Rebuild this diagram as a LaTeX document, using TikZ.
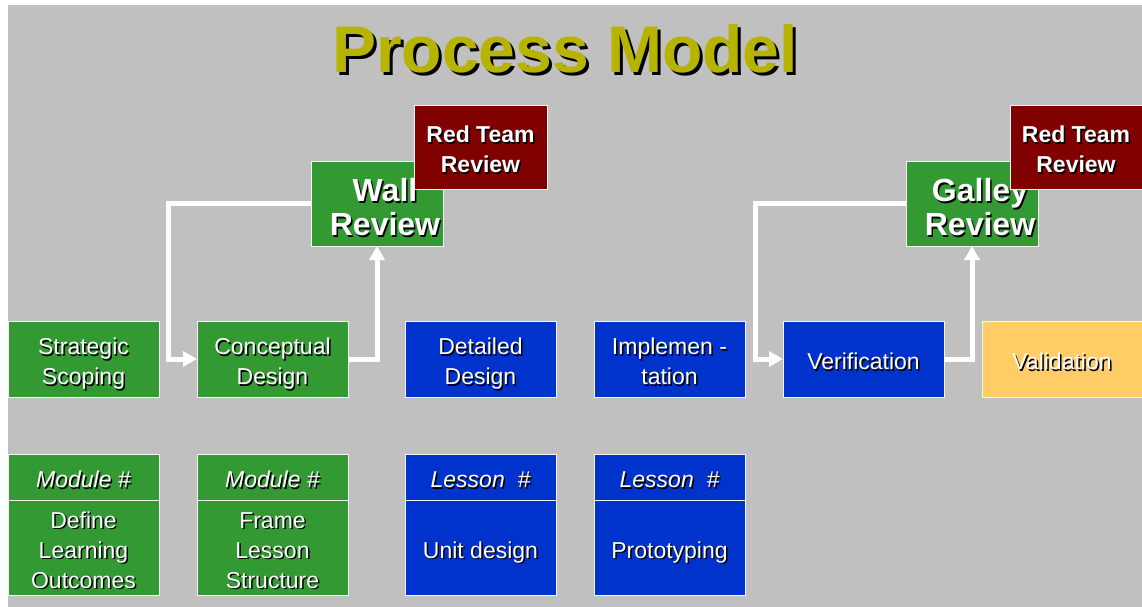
\documentclass[tikz,border=0pt]{standalone}
\usepackage{fontspec}
\setmainfont{Liberation Sans}
\usetikzlibrary{positioning}
\usetikzlibrary{arrows.meta}
\definecolor{bggray}{RGB}{192,192,192}
\definecolor{pgreen}{RGB}{51,153,51}
\definecolor{pblue}{RGB}{0,51,204}
\definecolor{pred}{RGB}{128,0,0}
\definecolor{pyellow}{RGB}{255,204,102}
\definecolor{polive}{RGB}{182,180,0}
% white text with a black drop shadow; \shdt also lowers the first line a little
\newcommand{\shd}[1]{\leavevmode\rlap{\kern1.5pt\raisebox{-1.5pt}{\color{black}#1}}#1}
\newcommand{\shdt}[1]{\rule{0pt}{0.95em}\shd{#1}}
\tikzset{
    pbox/.style = {rectangle, draw=white!92!gray, line width=0.8pt, outer sep=0pt, inner sep=0pt, align=center, text=white, text depth=0pt, font=\fontsize{23}{30}\selectfont, minimum width=151pt, minimum height=76pt},
    boxg/.style = {pbox, fill=pgreen},
    boxb/.style = {pbox, fill=pblue},
    boxy/.style = {pbox, fill=pyellow},
    boxr/.style = {pbox, fill=pred, font=\bfseries\fontsize{23}{30}\selectfont, minimum width=133pt, minimum height=84pt},
    review/.style = {pbox, fill=pgreen, font=\bfseries\fontsize{32}{34}\selectfont, minimum width=132pt, minimum height=85pt},
    head/.style = {minimum height=46pt, font=\itshape\fontsize{23}{30}\selectfont},
    body/.style = {minimum height=95pt},
    edgew/.style = {-{Triangle[length=14pt,width=15pt]}, line width=5pt, white},
    ttl/.style = {inner sep=0pt, font=\bfseries\fontsize{66}{70}\selectfont}
}
\begin{document}
\begin{tikzpicture}[x=1pt,y=-1pt]
%
\useasboundingbox (0,0) rectangle (1142,607);
\fill[white] (0,0) rectangle (1142,607);
\fill[bggray] (8,5) rectangle (1142,607);
%
\node[ttl, text=black] at (568,52) (ttlshd) {Process Model};
\node[ttl, text=polive] at (565,49) (title) {Process Model};
%
\node[boxg] at (83.5,359) (scope) {\shdt{Strategic}\\\shd{Scoping}};
\node[boxg] at (272.5,359) (concept) {\shdt{Conceptual}\\\shd{Design}};
\node[boxb] at (480.5,359) (detail) {\shdt{Detailed}\\\shd{Design}};
\node[boxb] at (669.5,359) (impl) {\shdt{Implemen -}\\\shd{tation}};
\node[boxb, minimum width=161pt] at (863.5,359) (verif) {\shdt{Verification}};
\node[boxy, minimum width=160pt] at (1062,359) (valid) {\shdt{Validation}};
%
\node[review] at (377,203.5) (wall) {\hspace*{16pt}\shdt{Wall}\\\hspace*{16pt}\shd{Review}};
\node[boxr] at (480.5,147) (red1) {\shdt{Red Team}\\\shd{Review}};
\node[review] at (972,203.5) (galley) {\hspace*{16pt}\shdt{Galley}\\\hspace*{16pt}\shd{Review}};
\node[boxr, minimum width=132pt] at (1076,147) (red2) {\shdt{Red Team}\\\shd{Review}};
%
\node[boxg, head, below=57pt of scope] (mod1h) {\shdt{Module \#}};
\node[boxg, body, below=0pt of mod1h] (mod1b) {\shdt{Define}\\\shd{Learning}\\\shd{Outcomes}};
\node[boxg, head, below=57pt of concept] (mod2h) {\shdt{Module \#}};
\node[boxg, body, below=0pt of mod2h] (mod2b) {\shdt{Frame}\\\shd{Lesson}\\\shd{Structure}};
\node[boxb, head, below=57pt of detail] (les1h) {\shdt{Lesson\ \ \#}};
\node[boxb, body, below=0pt of les1h] (les1b) {\shdt{Unit design}};
\node[boxb, head, below=57pt of impl] (les2h) {\shdt{Lesson\ \ \#}};
\node[boxb, body, below=0pt of les2h] (les2b) {\shdt{Prototyping}};
%
\draw[edgew] (wall.west) -| ([xshift=-29pt]concept.west) -- (concept.west);
\draw[edgew] (concept.east) -- ++(29,0) -| (wall.south);
\draw[edgew] (galley.west) -| ([xshift=-28pt]verif.west) -- (verif.west);
\draw[edgew] (verif.east) -- ++(28,0) -| (galley.south);

\end{tikzpicture}
\end{document}
